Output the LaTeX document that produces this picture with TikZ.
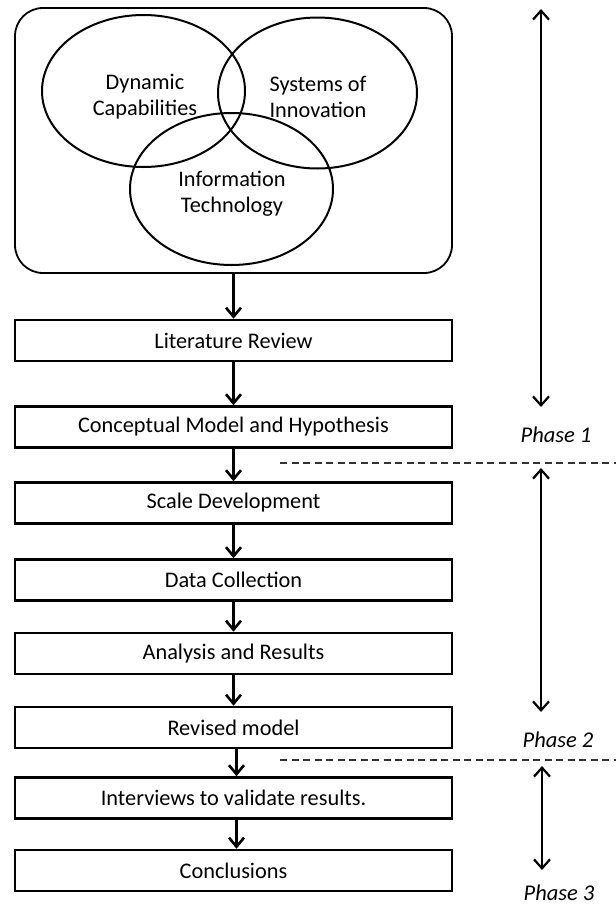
\documentclass[tikz,border=0pt]{standalone}
\usepackage{fontspec}
\setmainfont{Carlito}
\usetikzlibrary{shapes.geometric,arrows.meta}

\tikzset{
  stepbox/.style={draw, line width=2.6pt, rectangle, minimum width=437pt, minimum height=41pt,
                  inner sep=0pt, font=\fontsize{22.3}{24}\selectfont},
  circ/.style={draw, line width=2pt, ellipse, inner sep=0pt},
  circtext/.style={align=center, inner sep=0pt, font=\fontsize{22.3}{26}\selectfont},
  flow/.style={line width=2.8pt, -{Straight Barb[length=9pt,width=15pt,line width=2.6pt]}},
  span/.style={line width=1.8pt, {Straight Barb[length=9pt,width=16pt,line width=2.2pt]}-{Straight Barb[length=9pt,width=16pt,line width=2.2pt]}},
  divider/.style={dashed, dash pattern=on 7pt off 4.5pt, line width=1.6pt, black!80},
  phaselabel/.style={font=\fontsize{22.5}{24}\selectfont\itshape, inner sep=0pt}
}

\begin{document}
\begin{tikzpicture}[x=1pt,y=-1pt]
\useasboundingbox (0,0) rectangle (616,908);

% frame holding the three overlapping themes
\node[draw, line width=1.8pt, rectangle, rounded corners=28pt, minimum width=437pt,
      minimum height=265pt, inner sep=0pt] (frame) at (233.5,140.5) {};
\node[circ, minimum width=203pt, minimum height=152pt] (dyn) at (143.5,91) {};
\node[circ, minimum width=199pt, minimum height=151pt] (sys) at (317.5,93) {};
\node[circ, minimum width=203pt, minimum height=152pt] (it) at (231.5,189) {};
\node[circtext] (dyntext) at (145,97) {Dynamic\\Capabilities};
\node[circtext] (systext) at (318,97) {Systems of\\Innovation};
\node[circtext] (ittext)  at (232,194) {Information\\Technology};

% research steps
\node[stepbox] (lit)  at (233.5,340.5) {Literature Review};
\node[stepbox] (con)  at (233.5,427)   {Conceptual Model and Hypothesis};
\node[stepbox] (scl)  at (233.5,503)   {Scale Development};
\node[stepbox] (dat)  at (233.5,580)   {Data Collection};
\node[stepbox] (ana)  at (233.5,653.5) {Analysis and Results};
\node[stepbox] (rev)  at (233.5,727.5) {Revised model};
\node[stepbox] (int)  at (233.5,798)   {Interviews to validate results.};
\node[stepbox] (conc) at (233.5,870.5) {Conclusions};

% flow between steps
\draw[flow] (frame.south) -- (lit.north);
\draw[flow] (lit.south) -- (con.north);
\draw[flow] (con.south) -- (scl.north);
\draw[flow] (scl.south) -- (dat.north);
\draw[flow] (dat.south) -- (ana.north);
\draw[flow] (ana.south) -- (rev.north);
\draw[flow] ([xshift=3pt]rev.south) -- ([xshift=3pt]int.north);
\draw[flow] ([xshift=3pt]int.south) -- ([xshift=3pt]conc.north);

% phase dividers
\coordinate (d1a) at (280,463);
\coordinate (d1b) at (616,463);
\coordinate (d2a) at (280,760);
\coordinate (d2b) at (616,760);
\draw[divider] (d1a) -- (d1b);
\draw[divider] (d2a) -- (d2b);

% phase spans
\coordinate (p1t) at (541,9);
\coordinate (p1b) at (541,407);
\coordinate (p2t) at (541,468);
\coordinate (p2b) at (541,712);
\coordinate (p3t) at (542,766);
\coordinate (p3b) at (542,870);
\draw[span] (p1t) -- (p1b);
\draw[span] (p2t) -- (p2b);
\draw[span] (p3t) -- (p3b);

\node[phaselabel] (ph1) at (556,435) {Phase 1};
\node[phaselabel] (ph2) at (558,740) {Phase 2};
\node[phaselabel] (ph3) at (559,893) {Phase 3};
\end{tikzpicture}
\end{document}
